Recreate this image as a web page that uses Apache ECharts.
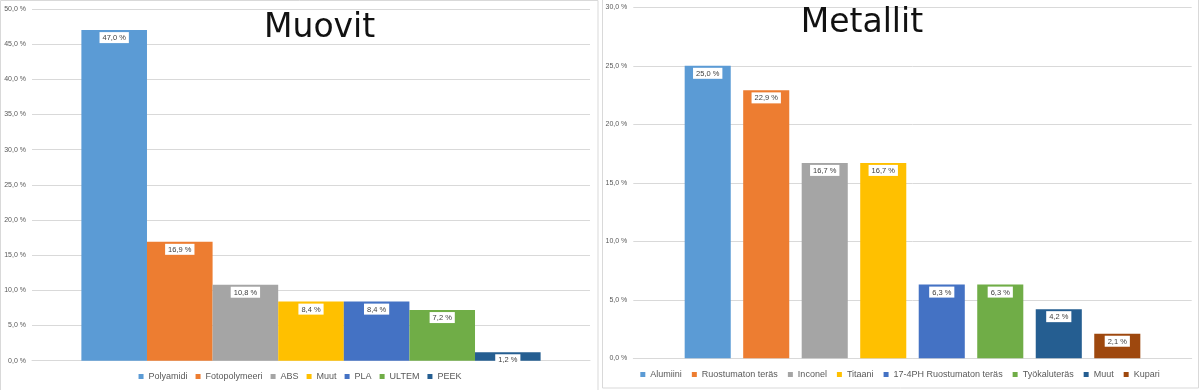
<!DOCTYPE html>
<html>
<head>
<meta charset="utf-8">
<script src="https://cdn.jsdelivr.net/npm/echarts@6/dist/echarts.min.js"></script>
<style>
html,body{margin:0;padding:0;background:#fff;}
#wrap{position:relative;width:1200px;height:390px;overflow:hidden;}
#left{position:absolute;left:0;top:0;width:600px;height:390px;}
#right{position:absolute;left:600px;top:0;width:600px;height:390px;}
</style>
</head>
<body>
<div id="wrap"><div id="left"></div><div id="right"></div></div>
<script>
// ---- data ----
const plasticNames = ['Polyamidi', 'Fotopolymeeri', 'ABS', 'Muut', 'PLA', 'ULTEM', 'PEEK'];
const plasticValues = [47.0, 16.9, 10.8, 8.4, 8.4, 7.2, 1.2];
const plasticColors = ['#5B9BD5', '#ED7D31', '#A5A5A5', '#FFC000', '#4472C4', '#70AD47', '#255E91'];
const plasticTicks = { min: 0, max: 50, interval: 5 };

const metalNames = ['Alumiini', 'Ruostumaton teräs', 'Inconel', 'Titaani', '17-4PH Ruostumaton teräs', 'Työkaluteräs', 'Muut', 'Kupari'];
const metalValues = [25.0, 22.9, 16.7, 16.7, 6.3, 6.3, 4.2, 2.1];
const metalColors = ['#5B9BD5', '#ED7D31', '#A5A5A5', '#FFC000', '#4472C4', '#70AD47', '#255E91', '#9E480E'];
const metalTicks = { min: 0, max: 30, interval: 5 };

const titles = ['Muovit', 'Metallit'];

const fmt = v => v.toFixed(1).replace('.', ',') + ' %';
const GRID = '#d9d9d9';
const TXT = '#595959';
const SMALL_FONT = "'Liberation Sans', sans-serif";

function buildOption(cfg) {
  return {
    animation: false,
    textStyle: { fontFamily: SMALL_FONT },
    title: {
      text: cfg.title,
      left: cfg.titleLeft,
      top: cfg.titleTop,
      padding: 0,
      textStyle: { fontFamily: 'DejaVu Sans', fontWeight: 'normal', fontSize: 33, color: '#111' }
    },
    graphic: [{
      type: 'rect', silent: true, z: -1,
      shape: cfg.frame,
      style: { fill: 'none', stroke: GRID, lineWidth: 1 }
    }],
    grid: cfg.grid,
    legend: {
      left: 'center', top: cfg.legendTop, padding: 0,
      itemWidth: 5, itemHeight: 5, itemGap: cfg.legendGap,
      icon: 'rect',
      textStyle: { fontSize: 9, color: TXT },
      data: cfg.names
    },
    xAxis: {
      type: 'category', data: [''],
      axisLine: { lineStyle: { color: GRID } },
      axisTick: { show: false }, axisLabel: { show: false }
    },
    yAxis: {
      type: 'value', min: cfg.ticks.min, max: cfg.ticks.max, interval: cfg.ticks.interval,
      axisLine: { show: false }, axisTick: { show: false },
      axisLabel: { formatter: v => fmt(v), fontSize: 7, color: TXT, margin: 6 },
      splitLine: { lineStyle: { color: GRID } }
    },
    series: cfg.names.map((n, i) => ({
      type: 'bar', name: n, data: [cfg.values[i]],
      barGap: cfg.barGap, barCategoryGap: cfg.barCategoryGap,
      itemStyle: { color: cfg.colors[i] },
      label: {
        show: true, position: 'insideTop', distance: 2,
        formatter: p => fmt(p.value),
        fontSize: 7.5, color: '#404040', backgroundColor: '#fff',
        padding: [2, 3, 1, 3]
      }
    }))
  };
}

const left = echarts.init(document.getElementById('left'), null, { renderer: 'canvas' });
left.setOption(buildOption({
  title: titles[0], titleLeft: 264, titleTop: 12,
  frame: { x: 0.5, y: 0.5, width: 597.5, height: 400 },
  grid: { left: 32, top: 9, width: 558, height: 351.7 },
  legendTop: 372, legendGap: 8,
  names: plasticNames, values: plasticValues, colors: plasticColors, ticks: plasticTicks,
  barGap: '0%', barCategoryGap: '17.7%'
}));

const right = echarts.init(document.getElementById('right'), null, { renderer: 'canvas' });
right.setOption(buildOption({
  title: titles[1], titleLeft: 200.7, titleTop: 7,
  frame: { x: 2.5, y: -5, width: 596, height: 393 },
  grid: { left: 33.3, top: 7.3, width: 558.4, height: 351 },
  legendTop: 370, legendGap: 10,
  names: metalNames, values: metalValues, colors: metalColors, ticks: metalTicks,
  barGap: '27%', barCategoryGap: '18.4%'
}));
</script>
</body>
</html>
